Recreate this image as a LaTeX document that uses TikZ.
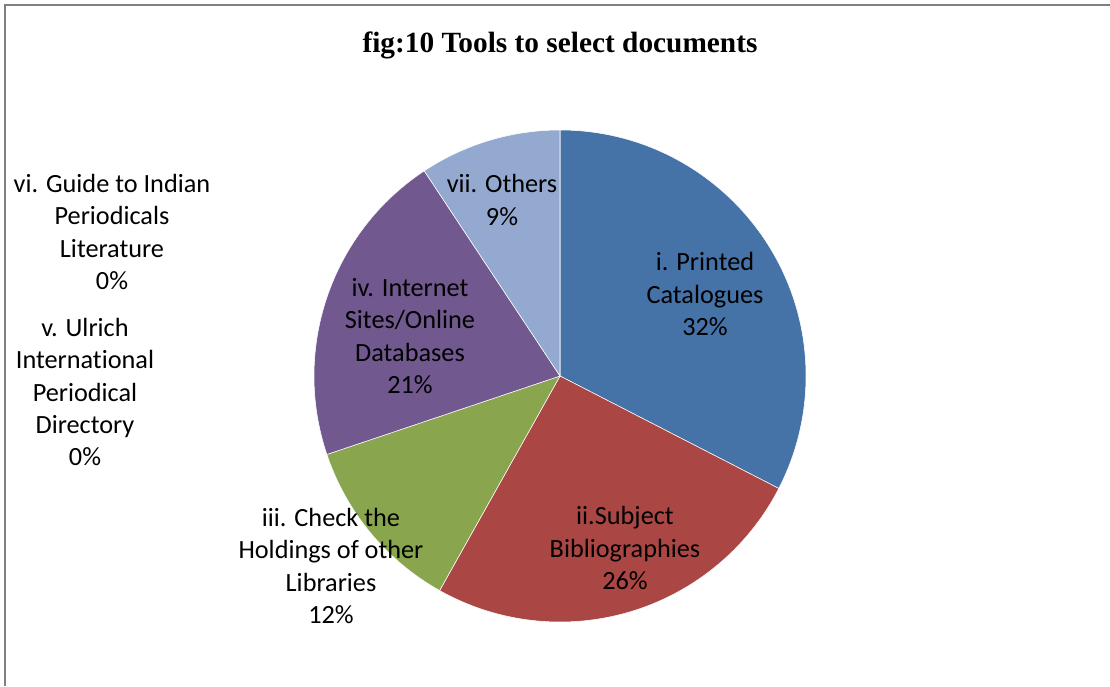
\documentclass[tikz,border=0pt]{standalone}
\usepackage{fontspec}
\setmainfont{Liberation Serif}
\newfontfamily\calib[Ligatures={NoCommon}]{Carlito}
\definecolor{printedc}{HTML}{4572A7}
\definecolor{subjectc}{HTML}{AA4643}
\definecolor{holdingc}{HTML}{89A54E}
\definecolor{internetc}{HTML}{71588F}
\definecolor{othersc}{HTML}{93A9CF}
\begin{document}
\begin{tikzpicture}[x=0.75pt,y=0.75pt]
    \tikzstyle{slice}=[draw=white, line width=0.4pt]
    \tikzstyle{lbl}=[align=center, inner sep=0pt, font=\calib\fontsize{19.7}{24.2}\selectfont]
    \tikzstyle{frame}=[draw=gray, line width=1.5pt]

    \useasboundingbox (0,0) rectangle (1110,-686);
    \draw[frame] (5,-686) -- (5,-5) -- (1110,-5);

    \node[font=\bfseries\fontsize{22}{26}\selectfont] (title) at (560,-45) {fig:10 Tools to select documents};

    % pie
    \coordinate (c) at (560,-376);
    \filldraw[slice, fill=printedc] (c) -- ++(90:246) arc (90:-27.2:246) -- cycle;
    \filldraw[slice, fill=subjectc] (c) -- ++(-27.2:246) arc (-27.2:-119.3:246) -- cycle;
    \filldraw[slice, fill=holdingc] (c) -- ++(-119.3:246) arc (-119.3:-161.4:246) -- cycle;
    \filldraw[slice, fill=internetc] (c) -- ++(-161.4:246) arc (-161.4:-236.5:246) -- cycle;
    \filldraw[slice, fill=othersc] (c) -- ++(-236.5:246) arc (-236.5:-270:246) -- cycle;

    \node[lbl] (printed) at (705,-294) {i. Printed\\Catalogues\\32\%};
    \node[lbl] (subject) at (625,-548) {ii.Subject\\Bibliographies\\26\%};
    \node[lbl] (holding) at (331,-566) {iii. Check the\\Holdings of other\\Libraries\\12\%};
    \node[lbl] (internet) at (410,-336) {iv. Internet\\Sites/Online\\Databases\\21\%};
    \node[lbl] (others) at (502,-200) {vii. Others\\9\%};
    \node[lbl] (guide) at (112,-232) {vi. Guide to Indian\\Periodicals\\Literature\\0\%};
    \node[lbl] (ulrich) at (85,-392) {v. Ulrich\\International\\Periodical\\Directory\\0\%};
\end{tikzpicture}
\end{document}
